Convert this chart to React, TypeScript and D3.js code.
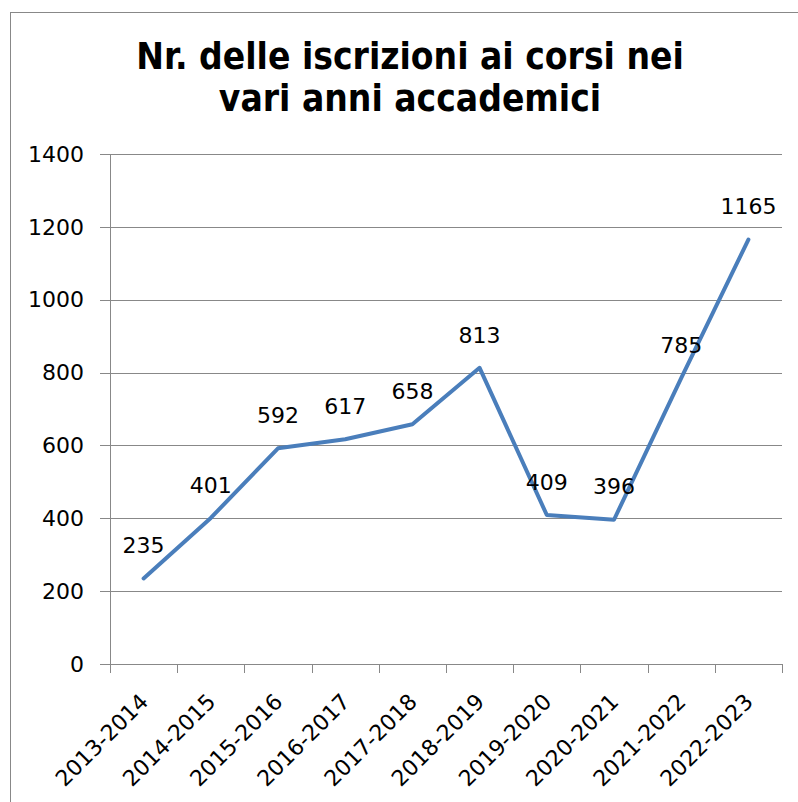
import React from "react";
import * as d3 from "d3";

const categories = ["2013-2014","2014-2015","2015-2016","2016-2017","2017-2018","2018-2019","2019-2020","2020-2021","2021-2022","2022-2023"];
const values = [235, 401, 592, 617, 658, 813, 409, 396, 785, 1165];
const yTicks = [0, 200, 400, 600, 800, 1000, 1200, 1400];
const titleLines = ["Nr. delle iscrizioni ai corsi nei", "vari anni accademici"];

export default function App() {
  const W = 798, H = 802;
  const left = 110, right = 782, top = 154, bottom = 664;
  const x = d3.scaleBand<string>().domain(categories).range([left, right]);
  const y = d3.scaleLinear().domain([0, 1400]).range([bottom, top]);
  const line = d3.line<number>()
    .x((_, i) => (x(categories[i]) as number) + x.bandwidth() / 2)
    .y((d) => y(d));
  const font = "'DejaVu Sans', Verdana, sans-serif";
  const titleFont = "'DejaVu Sans Condensed', 'DejaVu Sans', sans-serif";
  const boundaries = categories.map((c) => x(c) as number).concat([right]);
  return (
    <svg width={W} height={H} style={{ position: "absolute", left: 0, top: 0 }}>
      <rect x={0} y={0} width={W} height={H} fill="#fff" />
      <rect x={10.5} y={12.5} width={W + 10} height={H + 10} fill="none" stroke="#888" strokeWidth={1} />
      {titleLines.map((t, i) => (
        <text key={i} x={410} y={69 + i * 42} textAnchor="middle" fontFamily={titleFont} fontStretch="condensed" fontWeight="bold" fontSize={36.8} fill="#000">{t}</text>
      ))}
      {yTicks.map((t) => (
        <g key={t}>
          <line x1={left - 10} x2={right} y1={Math.round(y(t)) + 0.5} y2={Math.round(y(t)) + 0.5} stroke="#888" strokeWidth={1} />
          <text x={84} y={y(t)} dy="0.35em" textAnchor="end" fontFamily={font} fontSize={22} fill="#000">{t}</text>
        </g>
      ))}
      <line x1={left + 0.5} x2={left + 0.5} y1={top} y2={bottom} stroke="#888" strokeWidth={1} />
      {boundaries.map((b, i) => (
        <line key={i} x1={Math.round(b) + 0.5} x2={Math.round(b) + 0.5} y1={bottom} y2={bottom + 9} stroke="#888" strokeWidth={1} />
      ))}
      {categories.map((c) => {
        const cx = (x(c) as number) + x.bandwidth() / 2;
        return (
          <text key={c} transform={`translate(${cx + 6},${bottom + 39}) rotate(-45)`} textAnchor="end" fontFamily={font} fontSize={22} fill="#000">{c}</text>
        );
      })}
      <path d={line(values) || ""} fill="none" stroke="#4A7EBB" strokeWidth={4} strokeLinejoin="round" strokeLinecap="round" />
      {values.map((v, i) => {
        const cx = (x(categories[i]) as number) + x.bandwidth() / 2;
        return (
          <text key={i} x={cx} y={y(v) - 33} dy="0.35em" textAnchor="middle" fontFamily={font} fontSize={22} fill="#000">{v}</text>
        );
      })}
    </svg>
  );
}
